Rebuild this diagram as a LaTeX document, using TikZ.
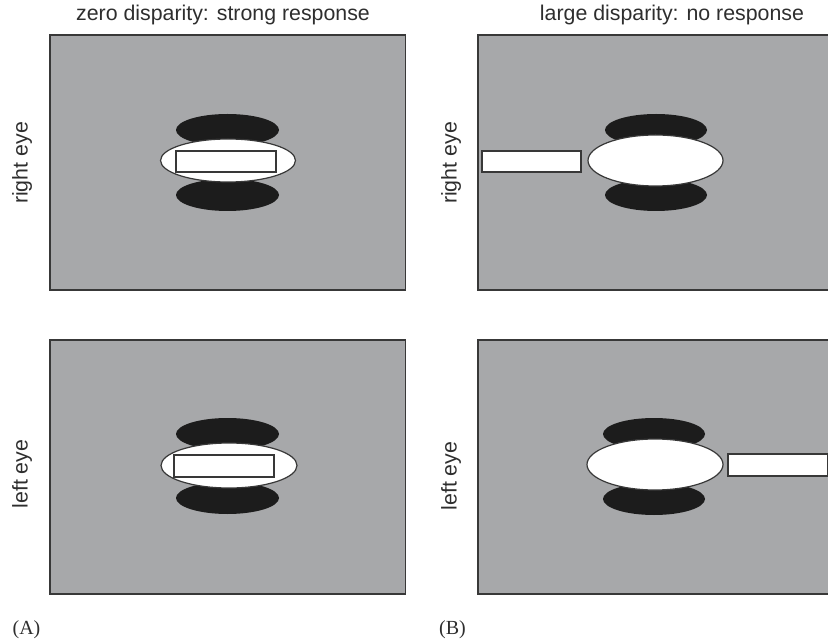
\documentclass[tikz,border=0pt]{standalone}
\usepackage{fontspec}
\setmainfont{Liberation Sans}
\newfontfamily\tagfont{Liberation Serif}
\definecolor{panelgray}{HTML}{A7A8AA}
\definecolor{edgecol}{HTML}{383838}
\definecolor{blobcol}{HTML}{1C1C1C}
\definecolor{textcol}{HTML}{2E2E2E}
\begin{document}
\begin{tikzpicture}[x=0.75pt,y=-0.75pt,
  panel/.style={fill=panelgray},
  panelrim/.style={draw=edgecol, line width=1.1pt},
  blob/.style={fill=blobcol},
  eyeball/.style={fill=white, draw=edgecol, line width=0.9pt},
  bar/.style={fill=white, draw=edgecol, line width=0.9pt},
  title/.style={font=\fontsize{16}{19}\selectfont, text=textcol},
  side/.style={rotate=90, font=\fontsize{16}{19}\selectfont, text=textcol},
  tag/.style={font=\tagfont\fontsize{15}{18}\selectfont, text=textcol}]
\useasboundingbox (0,0) rectangle (828,641);

% ---- Panel A, right eye
\fill[panel] (50,35) rectangle (405.5,290);
\draw[panelrim] (50,35) rectangle (405.5,290);
\fill[blob] (227.5,130) ellipse [x radius=51.5, y radius=16];
\fill[blob] (227.5,195) ellipse [x radius=51.5, y radius=16];
\draw[eyeball] (228,160.5) ellipse [x radius=67.5, y radius=21.5];
\draw[bar] (176,151) rectangle (276,172);

% ---- Panel A, left eye
\fill[panel] (50,340) rectangle (405.5,594);
\draw[panelrim] (50,340) rectangle (405.5,594);
\fill[blob] (227.5,434) ellipse [x radius=51.5, y radius=16];
\fill[blob] (227.5,498) ellipse [x radius=51.5, y radius=16];
\draw[eyeball] (229,465.5) ellipse [x radius=68, y radius=22.5];
\draw[bar] (174,455) rectangle (274,477);

% ---- Panel B, right eye
\fill[panel] (478,35) rectangle (828,290);
\draw[panelrim] (829,35) -- (478,35) -- (478,290) -- (829,290);
\fill[blob] (656,130) ellipse [x radius=51, y radius=16];
\fill[blob] (656,195) ellipse [x radius=51, y radius=16];
\draw[eyeball] (655.5,160.5) ellipse [x radius=67.5, y radius=25.5];
\draw[bar] (482,151) rectangle (581,172);

% ---- Panel B, left eye
\fill[panel] (478,340) rectangle (828,594);
\draw[panelrim] (829,340) -- (478,340) -- (478,594) -- (829,594);
\fill[blob] (654,434) ellipse [x radius=51, y radius=16];
\fill[blob] (654,499) ellipse [x radius=51, y radius=16];
\draw[eyeball] (655,464.5) ellipse [x radius=68, y radius=25.5];
\draw[bar] (728,454) rectangle (827.5,476);

% ---- Texts
\node[title] (tA) at (223,15) {zero disparity: strong response};
\node[title] (tB) at (672,15) {large disparity: no response};
\node[side] (rA) at (22,163) {right eye};
\node[side] (lA) at (22,474) {left eye};
\node[side] (rB) at (451,163) {right eye};
\node[side] (lB) at (451,476) {left eye};
\node[tag] (A) at (26.5,630) {(A)};
\node[tag] (B) at (452.5,630) {(B)};
\end{tikzpicture}
\end{document}
